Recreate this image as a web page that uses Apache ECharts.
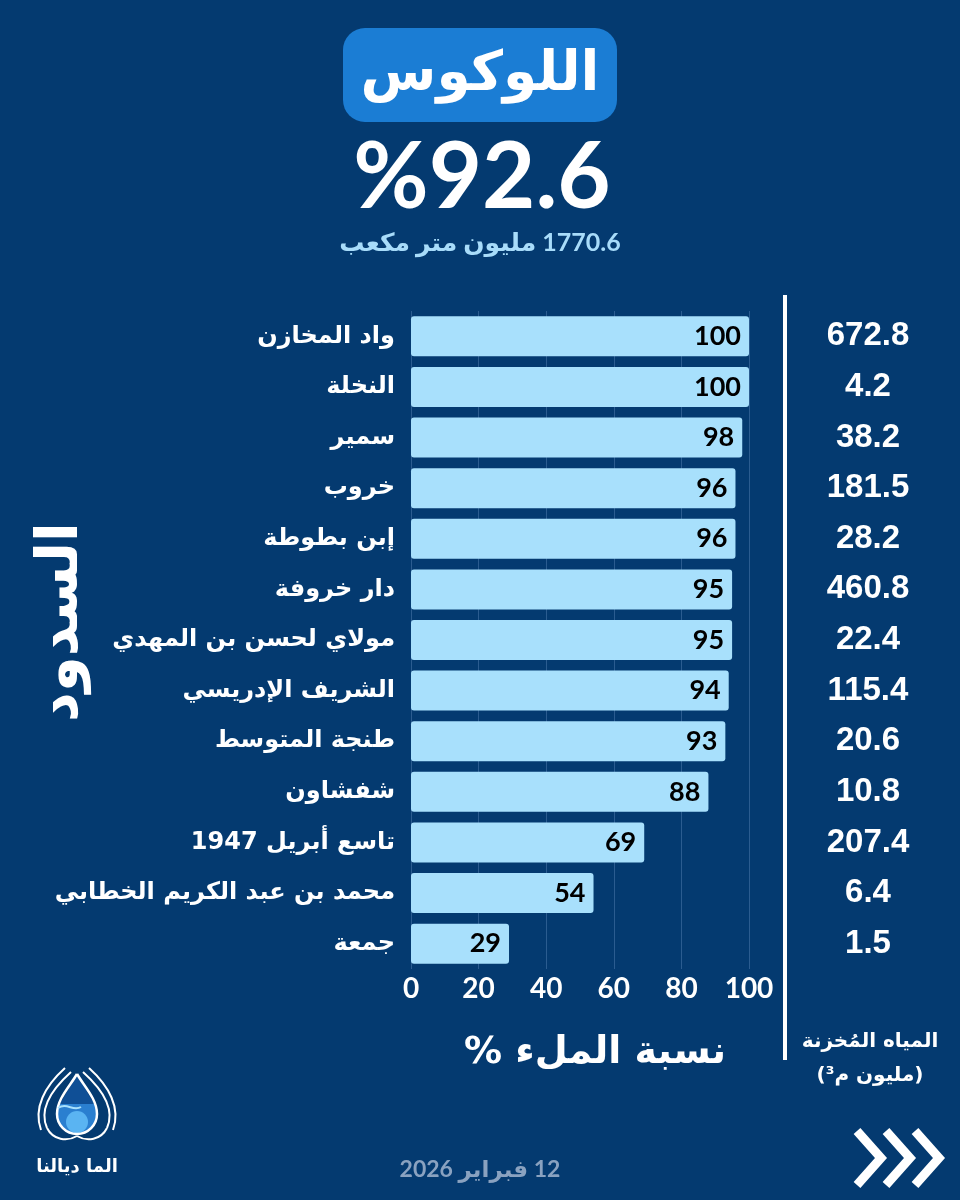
<!DOCTYPE html>
<html lang="ar">
<head>
<meta charset="utf-8">
<script src="https://cdn.jsdelivr.net/npm/echarts@6/dist/echarts.min.js"></script>
<style>
html,body{margin:0;padding:0;background:#043a70;}
#c{width:960px;height:1200px;}
</style>
</head>
<body>
<div id="c" dir="rtl"></div>
<script>
// ---- data ----
const dams = ['واد المخازن','النخلة','سمير','خروب','إبن بطوطة','دار خروفة','مولاي لحسن بن المهدي','الشريف الإدريسي','طنجة المتوسط','شفشاون','تاسع أبريل 1947','محمد بن عبد الكريم الخطابي','جمعة'];
const fillPct = [100,100,98,96,96,95,95,94,93,88,69,54,29];
const storedMm3 = ['672.8','4.2','38.2','181.5','28.2','460.8','22.4','115.4','20.6','10.8','207.4','6.4','1.5'];
const xTickMin = 0, xTickMax = 100, xTickStep = 20;
const basinName = 'اللوكوس';
const basinPct = '%92.6';
const basinVolume = '1770.6 مليون متر مكعب';
const dateText = '12 فبراير 2026';

const AR = "'DejaVu Sans', sans-serif";
const NUM = "Lato, 'DejaVu Sans', sans-serif";
const chart = echarts.init(document.getElementById('c'), null, {renderer:'canvas'});

function curve(x1,y1,cx1,cy1,cx2,cy2,x2,y2,color,w){
  return {type:'bezierCurve', shape:{x1:x1,y1:y1,cpx1:cx1,cpy1:cy1,cpx2:cx2,cpy2:cy2,x2:x2,y2:y2}, style:{stroke:color,lineWidth:w,fill:null}};
}

const option = {
  backgroundColor: '#043a70',
  animation: false,
  grid: {left: 411, right: 211, top: 311, bottom: 231},
  xAxis: {
    type: 'value', min: xTickMin, max: xTickMax, interval: xTickStep,
    axisLine: {show: false}, axisTick: {show: false},
    splitLine: {show: true, lineStyle: {color: '#2b5c90', width: 1}},
    axisLabel: {color: '#ffffff', fontSize: 28, fontWeight: 'bold', fontFamily: NUM, margin: 6}
  },
  yAxis: [
    {
      type: 'category', data: dams, inverse: true,
      axisLine: {show: false}, axisTick: {show: false}, splitLine: {show: false},
      axisLabel: {color: '#ffffff', fontSize: 24, fontWeight: 'bold', fontFamily: AR, margin: 16}
    },
    {
      type: 'category', data: storedMm3, inverse: true, position: 'right',
      axisLine: {show: false}, axisTick: {show: false}, splitLine: {show: false},
      axisLabel: {color: '#ffffff', fontSize: 33, fontWeight: 'bold', fontFamily: "'Liberation Sans', Arial, sans-serif", margin: 119, align: 'center'}
    }
  ],
  series: [{
    type: 'bar', data: fillPct, yAxisIndex: 0, barWidth: 40,
    itemStyle: {color: '#a8e0fc', borderRadius: 3},
    label: {show: true, position: 'insideRight', distance: 8, color: '#000000', fontSize: 27, fontWeight: 'bold', fontFamily: NUM}
  }],
  graphic: [
    {type: 'rect', shape: {x: 343, y: 28, width: 274, height: 94, r: 22}, style: {fill: '#1b7dd4'}},
    {type: 'text', x: 480, y: 76, style: {text: basinName, fontSize: 55, fontWeight: 'bold', fontFamily: AR, fill: '#ffffff', align: 'center', verticalAlign: 'middle'}},
    {type: 'text', x: 482, y: 178, style: {text: basinPct, fontSize: 92, fontWeight: 'bold', fontFamily: NUM, fill: '#ffffff', align: 'center', verticalAlign: 'middle'}},
    {type: 'text', x: 480, y: 243, style: {text: basinVolume, fontSize: 25, fontWeight: 'bold', fontFamily: NUM, fill: '#a8dcfa', align: 'center', verticalAlign: 'middle'}},
    {type: 'text', x: 62, y: 622, rotation: Math.PI / 2, style: {text: 'السدود', fontSize: 58, fontWeight: 'bold', fontFamily: AR, fill: '#ffffff', align: 'center', verticalAlign: 'middle'}},
    {type: 'line', shape: {x1: 785, y1: 295, x2: 785, y2: 1060}, style: {stroke: '#ffffff', lineWidth: 4}},
    {type: 'text', x: 595, y: 1053, style: {text: 'نسبة الملء %', fontSize: 38, fontWeight: 'bold', fontFamily: AR, fill: '#ffffff', align: 'center', verticalAlign: 'middle'}},
    {type: 'text', x: 870, y: 1042, style: {text: 'المياه المُخزنة', fontSize: 20, fontWeight: 'bold', fontFamily: AR, fill: '#ffffff', align: 'center', verticalAlign: 'middle'}},
    {type: 'text', x: 870, y: 1076, style: {text: '(مليون م³)', fontSize: 20, fontWeight: 'bold', fontFamily: AR, fill: '#ffffff', align: 'center', verticalAlign: 'middle'}},
    {type: 'text', x: 480, y: 1170, style: {text: dateText, fontSize: 23, fontWeight: 'bold', fontFamily: NUM, fill: '#8aa2c0', align: 'center', verticalAlign: 'middle'}},
    {type: 'polyline', shape: {points: [[857,1131],[881,1158],[857,1185]]}, style: {stroke: '#ffffff', lineWidth: 9, fill: null, lineJoin: 'miter'}},
    {type: 'polyline', shape: {points: [[886,1131],[910,1158],[886,1185]]}, style: {stroke: '#ffffff', lineWidth: 9, fill: null, lineJoin: 'miter'}},
    {type: 'polyline', shape: {points: [[915,1131],[939,1158],[915,1185]]}, style: {stroke: '#ffffff', lineWidth: 9, fill: null, lineJoin: 'miter'}},
    {type: 'group', x: 77, y: 1108, children: [
      {type: 'circle', shape: {cx: 0, cy: 6, r: 20}, style: {fill: '#2a7fd0'}},
      {type: 'polygon', shape: {points: [[0,-34],[-17,-4],[17,-4]]}, style: {fill: '#0f4f96'}},
      {type: 'circle', shape: {cx: 0, cy: 14, r: 11}, style: {fill: '#5ab4f2'}},
      curve(0,-34,7,-22,20,-9,20,6,'#ffffff',2.5),
      curve(0,-34,-7,-22,-20,-9,-20,6,'#ffffff',2.5),
      {type: 'arc', shape: {cx: 0, cy: 6, r: 20, startAngle: 0, endAngle: Math.PI, clockwise: true}, style: {stroke: '#ffffff', lineWidth: 2.5, fill: null}},
      curve(-19,0,-10,-6,-4,4,4,-1,'#a8e0fc',2),
      curve(-6,-36,-26,-18,-38,2,-30,20,'#ffffff',2),
      curve(6,-36,26,-18,38,2,30,20,'#ffffff',2),
      curve(-30,20,-24,32,-10,34,0,28,'#ffffff',2),
      curve(30,20,24,32,10,34,0,28,'#ffffff',2),
      curve(-12,-40,-32,-22,-44,0,-36,22,'#ffffff',2),
      curve(12,-40,32,-22,44,0,36,22,'#ffffff',2)
    ]},
    {type: 'text', x: 77, y: 1167, style: {text: 'الما ديالنا', fontSize: 18, fontWeight: 'bold', fontFamily: AR, fill: '#ffffff', align: 'center', verticalAlign: 'middle'}}
  ]
};
chart.setOption(option);
</script>
</body>
</html>
